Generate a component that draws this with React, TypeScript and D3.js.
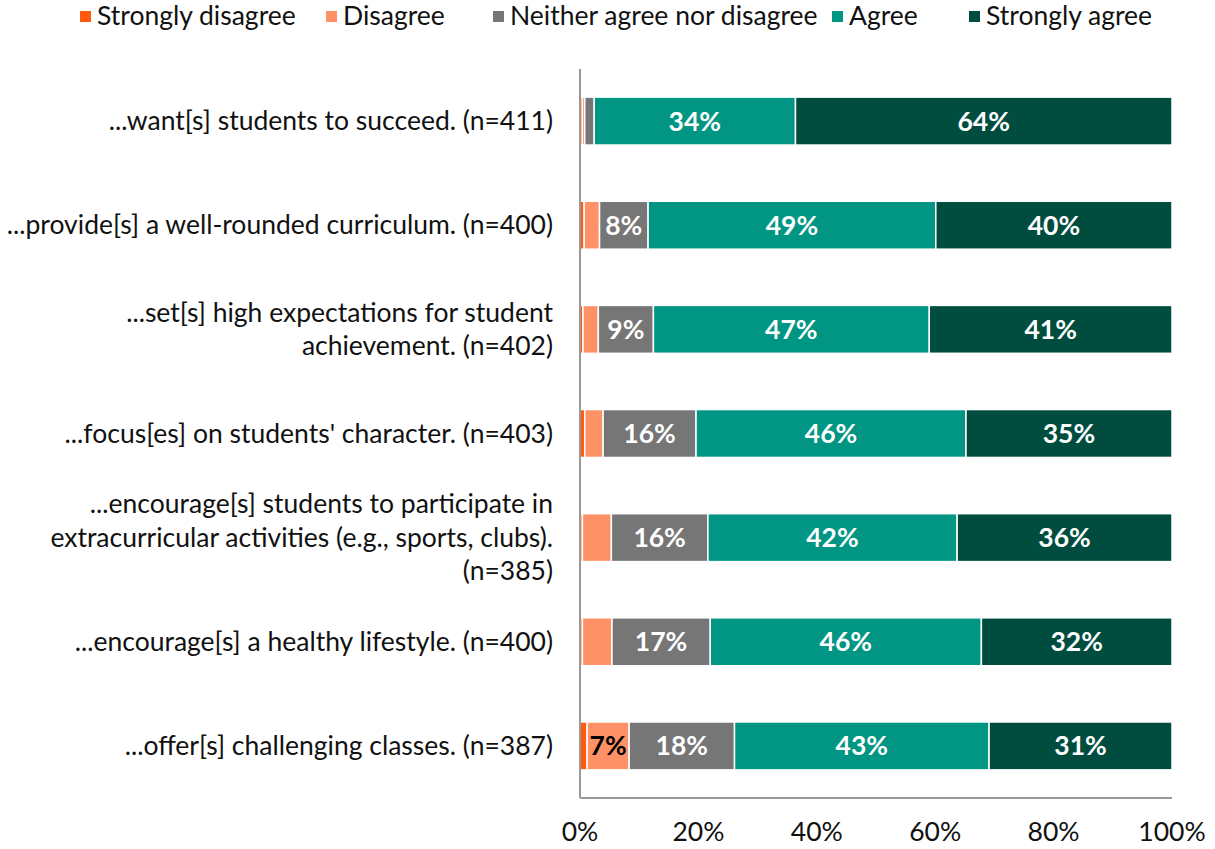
import React from "react";
import * as d3 from "d3";

const categories: string[][] = [
  ["...want[s] students to succeed. (n=411)"],
  ["...provide[s] a well-rounded curriculum. (n=400)"],
  ["...set[s] high expectations for student", "achievement. (n=402)"],
  ["...focus[es] on students' character. (n=403)"],
  ["...encourage[s] students to participate in", "extracurricular activities (e.g., sports, clubs).", "(n=385)"],
  ["...encourage[s] a healthy lifestyle. (n=400)"],
  ["...offer[s] challenging classes. (n=387)"],
];

const seriesNames = ["Strongly disagree", "Disagree", "Neither agree nor disagree", "Agree", "Strongly agree"];

const stronglyDisagree = [0.4, 0.7, 0.5, 0.8, 0.4, 0.4, 1.2];
const disagree = [0.4, 2.6, 2.6, 3.1, 4.9, 5.0, 7.1];
const neither = [1.6, 8.2, 9.3, 15.7, 16.3, 16.6, 17.8];
const agree = [34.0, 48.6, 46.6, 45.6, 42.1, 45.8, 43.0];
const stronglyAgree = [63.6, 39.9, 41.0, 34.8, 36.3, 32.2, 30.9];

const tickValues = [0, 20, 40, 60, 80, 100];

const colors = ["#FF5A0F", "#FF9166", "#767676", "#009683", "#004D40"];
const labelColors = ["#ffffff", "#000000", "#ffffff", "#ffffff", "#ffffff"];

const FONT = "Lato, 'Open Sans', sans-serif";
const FS = 26.5;

export default function App() {
  const width = 1215;
  const height = 849;
  const x = d3.scaleLinear().domain([0, 1]).range([580, 1172]);
  const y = d3
    .scaleBand<number>()
    .domain(d3.range(categories.length))
    .range([69, 798])
    .paddingInner(0.54)
    .paddingOuter(0.27);

  const series = [stronglyDisagree, disagree, neither, agree, stronglyAgree];
  const rows = categories.map((_, i) => series.map((s) => s[i]));
  // 100% stacked: each row is normalised to its own total
  const stack = d3
    .stack<number[], number>()
    .keys(d3.range(series.length))
    .value((d, k) => d[k])
    .offset(d3.stackOffsetExpand);
  const stacked = stack(rows);

  const legendX = [80, 326, 493, 832, 969];

  return (
    <svg width={width} height={height} style={{ display: "block", position: "absolute", left: 0, top: 0 }} fontFamily={FONT}>
      <rect width={width} height={height} fill="#ffffff" />
      {/* legend */}
      {seriesNames.map((name, k) => (
        <g key={name} transform={`translate(${legendX[k]},0)`}>
          <rect x={0} y={11} width={11} height={11} fill={colors[k]} />
          <text x={17} y={16} dy="0.35em" fontSize={FS} fill="#111">
            {name}
          </text>
        </g>
      ))}
      {/* bars */}
      {stacked.map((layer, k) => (
        <g key={k}>
          {layer.map((d, i) => {
            const x0 = x(d[0]);
            const x1 = x(d[1]);
            const v = series[k][i];
            const yy = y(i)!;
            const bw = y.bandwidth();
            return (
              <g key={i}>
                <rect x={x0} y={yy} width={Math.max(0, x1 - x0)} height={bw} fill={colors[k]} stroke="#ffffff" strokeWidth={1.5} />
                {v >= 5.5 && (
                  <text
                    x={(x0 + x1) / 2}
                    y={yy + bw / 2}
                    dy="0.36em"
                    textAnchor="middle"
                    fontSize={FS}
                    fontWeight="bold"
                    fill={labelColors[k]}
                  >
                    {`${Math.round(v)}%`}
                  </text>
                )}
              </g>
            );
          })}
        </g>
      ))}
      {/* axes */}
      <line x1={580} x2={580} y1={y.range()[0]} y2={y.range()[1]} stroke="#999" strokeWidth={2} />
      <line x1={580} x2={1172} y1={y.range()[1]} y2={y.range()[1]} stroke="#999" strokeWidth={2} />
      {tickValues.map((t) => (
        <text key={t} x={x(t / 100)} y={832} dy="0.35em" textAnchor="middle" fontSize={FS} fill="#111">
          {`${t}%`}
        </text>
      ))}
      {/* category labels */}
      {categories.map((lines, i) => {
        const cy = y(i)! + y.bandwidth() / 2;
        const lh = 33.5;
        const start = cy - ((lines.length - 1) * lh) / 2;
        return (
          <text key={i} x={553} textAnchor="end" fontSize={FS} fill="#111">
            {lines.map((line, j) => (
              <tspan key={j} x={553} y={start + j * lh} dy="0.35em">
                {line}
              </tspan>
            ))}
          </text>
        );
      })}
    </svg>
  );
}
